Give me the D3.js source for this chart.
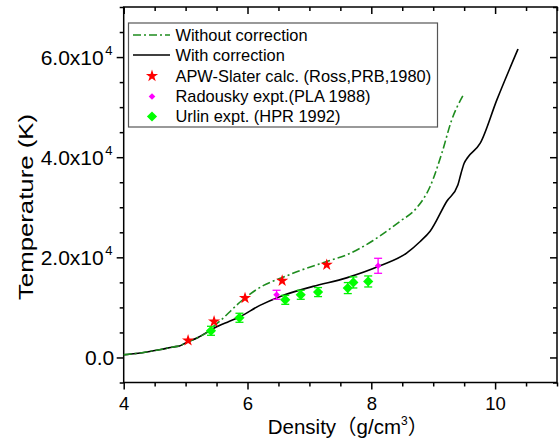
<!DOCTYPE html>
<html>
<head>
<meta charset="utf-8">
<script src="https://cdn.jsdelivr.net/npm/d3@7"></script>
<style>
  body { margin: 0; background: #fff; }
  svg { display: block; font-family: Arial, "Liberation Sans", sans-serif; }
</style>
</head>
<body>
<div id="container"></div>
<script>
// curve: with correction
const withDens = [4.0, 4.2, 4.42, 4.6, 4.8, 4.9, 5.0, 5.2, 5.45, 5.7, 5.87, 6.2, 6.53, 7.06, 7.6, 8.14, 8.57, 8.79, 8.95, 9.22, 9.40, 9.45, 9.50, 9.56, 9.76, 10.03, 10.37];
const withTemp = [550, 800, 1200, 1600, 2100, 2300, 2900, 4000, 5800, 7200, 8100, 10400, 12200, 14200, 15900, 18300, 20850, 23170, 25200, 31200, 34500, 36800, 38800, 40000, 42800, 51500, 61600];

// curve: without correction
const withoutDens = [4.0, 4.2, 4.42, 4.6, 4.8, 4.9, 5.0, 5.2, 5.35, 5.45, 5.56, 5.72, 5.83, 5.99, 6.26, 6.53, 6.85, 7.28, 7.6, 8.03, 8.14, 8.46, 8.73, 8.95, 9.14, 9.30, 9.48];
const withoutTemp = [550, 800, 1200, 1600, 2100, 2300, 2900, 4000, 5000, 6190, 7330, 9190, 10520, 12180, 14400, 15800, 17370, 19170, 20500, 23370, 24270, 27160, 29830, 34150, 40820, 47470, 52270];

// APW-Slater calc.
const apwDens = [5.04, 5.46, 5.96, 6.56, 7.28];
const apwTemp = [3400, 7190, 11860, 15320, 18510];

// Radousky expt.
const radDens = [6.47, 8.11];
const radTemp = [12520, 18310];
const radErr = [900, 1500];

// Urlin expt.
const urlDens = [5.41, 5.87, 6.61, 6.86, 7.14, 7.62, 7.71, 7.95];
const urlTemp = [5330, 7930, 11520, 12520, 13060, 13860, 14980, 15180];
const urlErr = [900, 900, 900, 900, 900, 1100, 1100, 1100];

const legendLabels = ["Without correction", "With correction", "APW-Slater calc. (Ross,PRB,1980)", "Radousky expt.(PLA 1988)", "Urlin expt. (HPR 1992)"];

const yMajor = [0, 20000, 40000, 60000];
const yLabels = ["0.0", "2.0x10", "4.0x10", "6.0x10"];

const width = 559, height = 440;
const mLeft = 123.7, mRight = 557, mTop = 7, mBottom = 382.5;

const svg = d3.select("#container").append("svg")
  .attr("width", width)
  .attr("height", height)
  .attr("viewBox", [0, 0, width, height]);

const x = d3.scaleLinear().domain([4, 11]).range([mLeft, mRight]);
const y = d3.scaleLinear().domain([-5000, 70000]).range([mBottom, mTop]);

const green = "#1e8c1e";
const dashDot = "8,3,2,3";

const xMinor = d3.range(4, 11.01, 0.5).filter(v => v % 2 !== 0);
const yMinor = d3.range(-5000, 70001, 5000).filter(v => v % 20000 !== 0);

// axes
function axisStyle(g) {
  g.select(".domain").remove();
  g.selectAll("line").attr("stroke", "#000").attr("stroke-width", 1.5);
}

svg.append("g").attr("transform", `translate(0,${mBottom})`)
  .call(d3.axisBottom(x).tickValues([4, 6, 8, 10]).tickSize(7).tickFormat(d3.format("d")).tickPadding(7))
  .call(axisStyle)
  .call(g => g.selectAll("text").attr("font-size", 18.5).attr("fill", "#000").attr("font-family", "Arial, 'Liberation Sans'"));
svg.append("g").attr("transform", `translate(0,${mBottom})`)
  .call(d3.axisBottom(x).tickValues(xMinor).tickSize(4).tickFormat(""))
  .call(axisStyle);

svg.append("g").attr("transform", `translate(0,${mTop})`)
  .call(d3.axisBottom(x).tickValues([4, 6, 8, 10]).tickSize(7).tickFormat(""))
  .call(axisStyle);
svg.append("g").attr("transform", `translate(0,${mTop})`)
  .call(d3.axisBottom(x).tickValues(xMinor).tickSize(4).tickFormat(""))
  .call(axisStyle);

svg.append("g").attr("transform", `translate(${mLeft},0)`)
  .call(d3.axisLeft(y).tickValues(yMajor).tickSize(7).tickFormat(""))
  .call(axisStyle);
svg.append("g").attr("transform", `translate(${mLeft},0)`)
  .call(d3.axisLeft(y).tickValues(yMinor).tickSize(4).tickFormat(""))
  .call(axisStyle);

svg.append("g").attr("transform", `translate(${mRight},0)`)
  .call(d3.axisLeft(y).tickValues(yMajor).tickSize(7).tickFormat(""))
  .call(axisStyle);
svg.append("g").attr("transform", `translate(${mRight},0)`)
  .call(d3.axisLeft(y).tickValues(yMinor).tickSize(4).tickFormat(""))
  .call(axisStyle);

// y tick labels with superscript
const yl = svg.append("g").attr("font-size", 21).attr("fill", "#000");
yMajor.forEach((v, i) => {
  yl.append("text")
    .attr("x", i === 0 ? mLeft - 9.5 : mLeft - 20)
    .attr("y", y(v))
    .attr("dy", "0.36em")
    .attr("text-anchor", "end")
    .text(yLabels[i]);
  if (i > 0) {
    yl.append("text")
      .attr("x", mLeft - 18.5)
      .attr("y", y(v) - 2.5)
      .attr("font-size", 13)
      .text("4");
  }
});

// frame
svg.append("rect")
  .attr("x", mLeft).attr("y", mTop)
  .attr("width", mRight - mLeft).attr("height", mBottom - mTop)
  .attr("fill", "none").attr("stroke", "#000").attr("stroke-width", 1.5);

// titles
const xt = svg.append("text")
  .attr("x", 348).attr("y", 434)
  .attr("text-anchor", "middle")
  .attr("font-size", 20.5);
xt.append("tspan").text("Density");
xt.append("tspan").attr("font-family", "'Noto Sans CJK SC'").text("（");
xt.append("tspan").text("g/cm");
xt.append("tspan").attr("font-size", 12).attr("dy", -9).text("3");
xt.append("tspan").attr("dy", 9).attr("font-family", "'Noto Sans CJK SC'").text("）");

svg.append("text")
  .attr("transform", "translate(33,207) rotate(-90)")
  .attr("text-anchor", "middle")
  .attr("font-size", 20)
  .attr("textLength", 186)
  .attr("lengthAdjust", "spacingAndGlyphs")
  .text("Temperature (K)");

// curves
const line = d3.line()
  .x(d => x(d[0]))
  .y(d => y(d[1]))
  .curve(d3.curveMonotoneX);

svg.append("path")
  .datum(d3.zip(withDens, withTemp))
  .attr("d", line)
  .attr("fill", "none")
  .attr("stroke", "#000")
  .attr("stroke-width", 1.6);

svg.append("path")
  .datum(d3.zip(withoutDens, withoutTemp))
  .attr("d", line)
  .attr("fill", "none")
  .attr("stroke", green)
  .attr("stroke-width", 1.6)
  .attr("stroke-dasharray", dashDot);

// error bars
function errorBars(dens, temp, err, color) {
  const g = svg.append("g").attr("stroke", color).attr("stroke-width", 1.3);
  dens.forEach((d, i) => {
    const cx = x(d), y0 = y(temp[i] - err[i]), y1 = y(temp[i] + err[i]);
    g.append("line").attr("x1", cx).attr("x2", cx).attr("y1", y0).attr("y2", y1);
    g.append("line").attr("x1", cx - 4).attr("x2", cx + 4).attr("y1", y0).attr("y2", y0);
    g.append("line").attr("x1", cx - 4).attr("x2", cx + 4).attr("y1", y1).attr("y2", y1);
  });
}
errorBars(urlDens, urlTemp, urlErr, "#00ee00");
errorBars(radDens, radTemp, radErr, "#ff00ff");

const starSym = d3.symbol().type(d3.symbolStar).size(46);
const bigDiamond = d3.symbol().type(d3.symbolSquare).size(52);
const smallDiamond = d3.symbol().type(d3.symbolSquare).size(22);

svg.append("g").selectAll("path")
  .data(d3.zip(urlDens, urlTemp))
  .join("path")
  .attr("d", bigDiamond)
  .attr("transform", d => `translate(${x(d[0])},${y(d[1])}) rotate(45)`)
  .attr("fill", "#00ff00");

svg.append("g").selectAll("path")
  .data(d3.zip(radDens, radTemp))
  .join("path")
  .attr("d", smallDiamond)
  .attr("transform", d => `translate(${x(d[0])},${y(d[1])}) rotate(45)`)
  .attr("fill", "#ff00ff");

svg.append("g").selectAll("path")
  .data(d3.zip(apwDens, apwTemp))
  .join("path")
  .attr("d", starSym)
  .attr("transform", d => `translate(${x(d[0])},${y(d[1])})`)
  .attr("fill", "#ff0000");

// legend
const lg = svg.append("g");
lg.append("rect")
  .attr("x", 128.5).attr("y", 23)
  .attr("width", 309).attr("height", 104)
  .attr("fill", "#fff")
  .attr("stroke", "#555").attr("stroke-width", 1.2);

const rowY = [35, 55, 76, 96.5, 116.5];
legendLabels.forEach((lab, i) => {
  lg.append("text")
    .attr("x", 175.5).attr("y", rowY[i])
    .attr("dy", "0.36em")
    .attr("font-size", 16.4)
    .text(lab);
});
lg.append("line").attr("x1", 133).attr("x2", 170).attr("y1", rowY[0]).attr("y2", rowY[0])
  .attr("stroke", green).attr("stroke-width", 1.6).attr("stroke-dasharray", dashDot);
lg.append("line").attr("x1", 133).attr("x2", 170).attr("y1", rowY[1]).attr("y2", rowY[1])
  .attr("stroke", "#000").attr("stroke-width", 1.6);
lg.append("path").attr("d", starSym).attr("transform", `translate(152,${rowY[2]})`).attr("fill", "#ff0000");
lg.append("path").attr("d", smallDiamond).attr("transform", `translate(152,${rowY[3]}) rotate(45)`).attr("fill", "#ff00ff");
lg.append("path").attr("d", bigDiamond).attr("transform", `translate(152,${rowY[4]}) rotate(45)`).attr("fill", "#00ff00");
</script>
</body>
</html>
